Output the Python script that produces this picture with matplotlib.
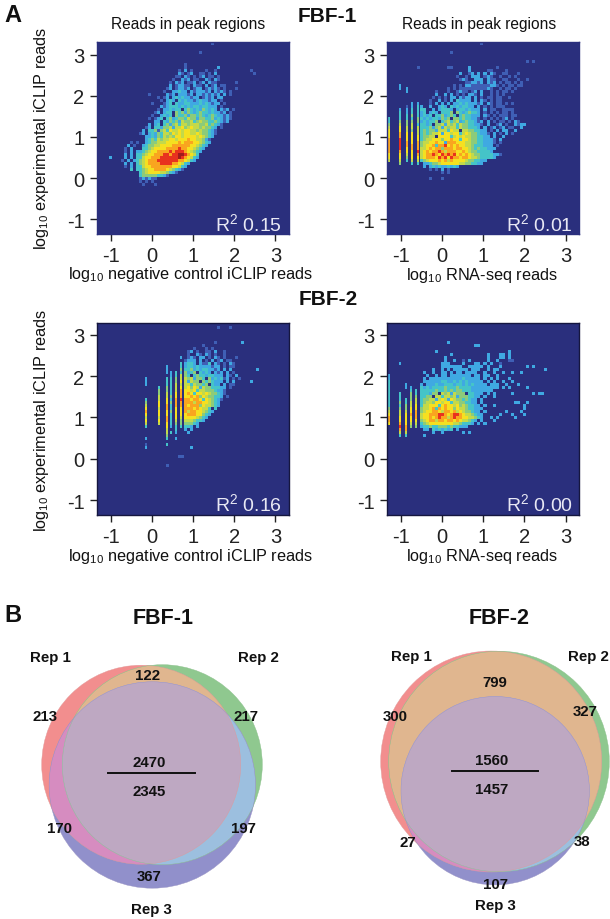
import numpy as np
import matplotlib
matplotlib.use("Agg")
import matplotlib.pyplot as plt
from matplotlib.colors import ListedColormap
from matplotlib.patches import Circle, Polygon

plt.rcParams['font.family'] = ['Liberation Sans', 'DejaVu Sans']
plt.rcParams['mathtext.fontset'] = 'custom'
plt.rcParams['mathtext.rm'] = 'Liberation Sans'
plt.rcParams['mathtext.default'] = 'regular'

# ---- density levels: (row from top, first column, levels) ----
F1_NEG_ROWS = [
 (0,38,"1"),(3,34,"1"),(7,29,"1"),(8,29,"10000000000200"),
 (9,27,"1020100001001000000000001"),(10,27,"21012001101020000000000001"),
 (11,26,"11021010120110100"),(12,25,"1002120110021021"),
 (13,24,"102120112012021100000010"),(14,24,"20122110211020120110"),
 (15,23,"1201221201220121210100010"),(16,22,"10022322021222120212101"),
 (17,17,"1000002120222120221212120201"),(18,20,"1012023232212201212022"),
 (19,21,"102320323221232212201"),(20,18,"1000123032233222323212201"),
 (21,21,"212333232323323322201"),
 (22,20,"1 0 2 2 3 2 3 3 0 3 4 3 2 3 2 4 3 2 3 2 0 2 1 2 0 1"),
 (23,19,"1 2 0 2 3 3 0 4 3 4 2 4 3 2 3 4 3 3 2 3 2 2 1 2 0 1"),
 (24,18,"1 0 0 2 3 2 3 0 4 3 3 4 2 4 4 3 4 3 2 3 4 3 2 2 1 2 1"),
 (25,17,"1 0 1 2 3 0 3 4 2 3 4 4 3 5 4 4 2 4 4 3 3 4 2 3 2 1 2 1"),
 (26,18,"0 2 2 0 3 2 4 3 4 2 5 4 4 5 3 4 5 4 4 3 3 4 3 2 1 2"),
 (27,17,"2 0 2 3 0 3 4 2 4 5 3 5 5 4 5 5 5 4 4 5 3 4 3 2 1 0"),
 (28,16,"1 2 0 3 3 2 4 4 5 2 5 5 6 4 5 6 5 5 4 5 4 4 3 2 0 1"),
 (29,15,"2 0 3 3 4 1 4 5 3 6 5 5 6 5 6 6 5 5 4 5 4 4 3 2 1 0"),
 (30,14,"1 2 0 2 3 2 4 3 5 5 4 6 5 6 5 6 6 5 5 6 5 4 4 3 2 1"),
 (31,16,"2 2 3 2 4 3 5 4 5 4 6 6 5 6 6 6 6 5 6 5 4 3 2"),
 (32,16,"2 3 4 3 5 4 5 5 6 6 5 6 6 6 7 6 6 5 5 4 2 1"),
 (33,16,"2 3 4 4 5 5 5 6 6 6 6 7 6 7 7 7 6 6 5 4 3 2"),
 (34,15,"2 3 4 4 5 5 6 6 6 6 7 7 7 7 7 7 6 6 5 4 3 2"),
 (35,15,"3 3 4 5 6 6 6 6 7 7 7 7 8 7 7 6 6 5 4 3 2"),
 (36,14,"2 3 4 5 6 6 7 7 7 7 8 7 8 8 8 7 6 5 4 3 2"),
 (37,14,"3 4 5 6 6 7 7 7 8 8 7 8 8 9 9 8 7 6 5 3"),
 (38,14,"3 5 6 6 7 7 7 8 8 8 8 8 8 9 8 7 6 5 3 2"),
 (39,14,"4 5 6 7 7 7 8 8 8 8 8 8 8 7 7 6 5 3 2"),
 (40,14,"4 5 6 7 7 7 7 8 8 8 8 7 7 6 5 3 2"),
 (41,14,"3 5 6 6 7 7 7 7 7 7 7 6 6 5 3 2"),
 (33,11,"101"),(34,10,"2010"),(35,9,"1020"),(36,9,"10202"),(37,9,"20203"),
 (38,4,"2000020203"),(39,8,"102023"),(40,9,"20203"),(41,9,"10203"),(42,11,"303"),
 (42,14,"345667777654321"),
 (43,14,"3456666554321"),(44,14,"34444433210"),(45,14,"1212110"),
 (46,14,"10101"),(47,15,"100010"),
]
F1_RNA_ROWS = [
 (0,31,"1"),(3,21,"1"),(6,46,"101"),(8,10,"1"),(8,20,"1100000200000000100"),
 (9,27,"2000001100001000"),(10,24,"2001202020210011000100"),
 (11,23,"100102220121001001010"),(12,24,"12100222021100110001001"),
 (13,26,"11221202120101101010"),(14,22,"10102211111122101011011"),
 (15,20,"1010111111111210010110100"),(16,16,"1000100121101202001010110100"),
 (17,16,"200202010102210200101010"),(18,15,"10101022021220201011011001"),
 (19,14,"1002010203222202021010110"),(20,14,"1020202022323222120210110101"),
 (21,11,"2002002320323233220201010111"),
 (22,11,"3 3 0 0 2 0 2 3 3 3 2 0 2 3 3 2 3 2 2 2 0 2 0 1 1 0 0 1 1 1 1 0"),
 (23,11,"2 3 0 2 3 2 0 3 3 3 4 0 4 3 2 3 4 3 3 2 0 1 0 1 0 1 0 1 1 0 1"),
 (24,11,"2 3 2 3 0 3 3 4 2 3 4 3 0 3 4 3 3 2 2 2 0 2 1 0 1 0 1 1 1 0 1 1"),
 (25,11,"3 2 3 2 3 3 2 4 3 4 0 4 4 3 4 3 3 2 2 1 0 1 0 1 0 1 0 1 2 0 1 0"),
 (26,11,"2 3 2 3 3 4 0 3 4 5 3 4 5 2 3 4 3 3 2 1 2 0 2 0 1 0 1 1 0 1 0 2 1"),
 (27,11,"3 3 2 3 0 4 4 5 2 5 4 5 3 5 4 4 3 3 2 2 1 0 2 0 0 1 2 0 1 0 0 2 1 2 2"),
 (28,11,"3 3 3 4 2 4 5 2 5 4 5 5 3 5 4 4 3 3 3 2 0 2 0 1 2 0 1 2 0 1 1 0 0 2"),
 (29,11,"3 4 3 4 4 2 5 5 5 3 6 5 5 0 5 5 4 4 3 3 2 2 0 1 0 2 0 2 2 0 0 2"),
 (30,11,"3 4 3 4 5 5 6 2 6 6 5 6 6 3 5 6 5 4 4 3 2 2 1 0 2 0 1 0 2 0 1"),
 (31,11,"3 4 4 5 5 0 6 6 6 6 3 5 6 5 6 5 5 4 4 3 3 2 2 0 2 0 0 2 0 0"),
 (32,11,"3 4 5 5 6 6 6 4 6 6 7 6 6 3 6 6 5 4 4 3 3 2 2 2 1 0 2 0"),
 (33,11,"4 5 5 6 6 7 6 6 2 7 7 7 6 6 6 5 5 4 4 3 3 2 2 2 1 0 1"),
 (34,11,"4 5 6 6 7 3 7 7 8 6 7 6 7 6 6 5 5 4 3 3 3 2 2 2 0 1"),
 (35,11,"5 5 6 7 6 7 7 4 7 7 7 6 7 7 6 6 5 4 3 4 3 3 2 2 2"),
 (36,11,"5 6 7 6 7 7 8 7 5 7 7 7 6 6 7 6 5 4 4 3 3 3 3 2"),
 (37,11,"5 6 7 7 8 7 6 8 7 8 7 8 6 7 6 7 6 5 4 4 3 3 3 3 2 2 1"),
 (38,11,"5 6 7 7 7 6 8 7 8 6 8 7 7 6 7 7 6 5 5 4 3 3 3 3 2"),
 (39,11,"3 4 5 6 6 6 7 6 7 5 7 6 6 6 6 5 4 4 3 3 2 2"),
 (40,11,"0223445666666554433220"),
 (41,11,"02023232232320"),(42,14,"1010201"),(43,18,"1010"),(45,14,"1000100"),
]
# stripes: (first row, column position, levels going down)
F1_RNA_COLS = [
 (25,0.2,"334566677777665"),
 (14,3.9,"2200000023334566778888766 54"),
 (15,6.3,"2200001223344556667766543"),
 (20,7.9,"223343455466667766653"),
 (20,9.9,"233334435556677787653"),
]
F2_NEG_ROWS = [
 (1,40,"10001"),(6,39,"1000000002"),(7,35,"1"),(8,32,"10001010"),
 (9,30,"1201001102001"),(10,29,"01002102101001"),
 (11,29,"012102201021010001"),(12,29,"1222020102012011"),
 (13,29,"233202113021010210"),(14,29,"23323222212201011"),
 (15,29,"3342323322120202000000002"),
 (16,29,"4 2 3 4 0 3 2 3 2 0 2 1 2 0 2 0 1"),
 (17,29,"4 3 0 3 4 3 3 2 3 3 2 2 2 0 2 1 0 2 0"),
 (18,29,"5 4 5 2 4 4 3 0 4 2 3 2 3 1 2 0 1 0 1"),
 (19,29,"5 2 5 4 4 0 4 3 4 3 2 2 2 0 2 0 2 0 0 0 0 0 2"),
 (20,29,"5 5 3 5 4 4 3 4 0 3 2 2 0 2 0 1 1 0"),
 (21,29,"5 6 4 6 5 2 5 4 4 3 3 3 2 2 0 1"),
 (22,29,"6 6 5 6 3 5 5 4 4 4 3 2 2 1"),
 (23,29,"6 7 6 3 6 6 5 6 5 4 4 3 2 1"),
 (24,29,"6 6 7 6 7 4 6 5 4 4 3 3 2 0 1"),
 (25,29,"7 7 6 7 7 6 3 6 5 4 3 2 1 0"),
 (26,29,"7 7 7 5 7 7 6 6 5 4 3 2"),
 (27,29,"7 6 7 7 7 4 6 5 5 4 3 2 0"),
 (28,29,"7 7 7 6 7 6 5 5 3 0 3"),
 (29,29,"7 5 7 7 6 6 5 4 3 2"),
 (30,29,"677766432"),
 (31,29,"666654320"),(32,29,"5554332"),(33,29,"44432"),
 (34,29,"33202"),(35,29,"202"),(36,29,"02"),
 (41,31,"2"),(44,27,"11"),(47,23,"1"),
]
F2_NEG_COLS = [
 (18,16,"222000034567656530002012"),
 (21,20.4,"3445566566565"),
 (14,23,"222033344556677667766554303"),
 (16,24.4,"223333334343343333203"),
 (16,26,"33445556677766665433202"),
 (11,27.7,"203343556567778776665443"),
]
F2_RNA_ROWS = [
 (6,20,"2"),(7,29,"22"),(9,16,"2"),(9,40,"2"),(10,21,"2"),(10,33,"2000220200"),
 (11,19,"2000000000000020002202"),(12,19,"200200102000002002000110"),
 (13,18,"22200002000220202001000"),(14,18,"2222222002222202000200000000202"),
 (15,15,"20020202222202220020220000000000000002"),
 (16,12,"2002002202022022220020020020020020"),(17,13,"2002022022222220220220020"),
 (18,12,"2022222222222322222020202000200"),(19,12,"222222332232323222220202002002"),
 (20,11,"2022232233323323232222022200200020"),(21,11,"323233334333433332222222220202000002"),
 (22,11,"333334334343443332222222"),
 (23,11,"3 3 3 2 4 4 0 5 4 5 2 5 4 4 4 0 3 3 2 2 2 0 2 0 2 0 0 0 0 0 2 0 0 0 0 0 0 2 0 2 2"),
 (24,11,"3 3 4 4 0 5 5 3 5 5 4 5 2 4 4 4 3 3 2 2 0 2 0 0 2 0"),
 (25,11,"3 4 4 5 5 2 5 6 5 2 6 5 4 4 3 4 3 2 2 0 2 0"),
 (26,11,"3 4 5 5 4 6 6 5 6 6 3 5 5 4 4 3 3 2 2 0 2 0 0 0 0 0 0 0 0 0 0 2 2 0 0 2"),
 (27,11,"3 5 5 6 6 6 3 6 7 6 6 5 6 4 5 4 3 3 2 2 0 2 0 0 2 0 0 0 0 0 0 0 0 0 2"),
 (28,11,"4 5 5 6 7 3 7 6 7 6 6 4 6 5 5 4 3 3 2 2 2 0 0 0 0 0 0 0 0 0 0 0 0 0 2"),
 (29,11,"4 5 6 6 7 7 6 5 7 7 6 7 5 6 5 4 4 3 2 2 0 2 0 0 0 0 0 0 2 0 0 0 0 2"),
 (30,11,"5 6 6 7 7 7 8 8 7 6 7 8 8 7 6 5 5 4 3 2 2 0 0 0 0 0 2 0 0 0 2 0 0 0 2"),
 (31,11,"5 6 6 7 6 7 8 7 7 5 7 8 7 7 6 6 5 5 4 3 2 0 0 2 0 2 0 0 0 0 0 2"),
 (32,11,"4 5 6 7 7 5 7 7 6 7 7 6 7 6 5 5 4 3 2 0 2 0 0 0 2"),
 (33,11,"3456666666655433320202"),
 (34,11,"23343344434332220"),(35,11,"02203232323020"),(36,15,"20020000000"),
 (36,25,"202"),(37,12,"2"),
]
F2_RNA_COLS = [
 (17,0.2,"22333333333456776"),
 (13,4,"20000000003334345566787 53"),
 (20,6,"220003344566667753"),
 (21,7.7,"23444556676654"),
 (22,9.3,"3345566777654"),
]

PANEL_ROWS = [F1_NEG_ROWS, F1_RNA_ROWS, F2_NEG_ROWS, F2_RNA_ROWS]
PANEL_COLS = [[], F1_RNA_COLS, F2_NEG_COLS, F2_RNA_COLS]
R2_LABELS = ["0.15", "0.01", "0.16", "0.00"]
XLABELS = ["negative control iCLIP reads", "RNA-seq reads"] * 2
TICKS = [-1, 0, 1, 2, 3]
LEVEL_COLORS = ["#2a2f7d", "#3f5fb5", "#3fa9e2", "#45c4c8", "#8ccb7a",
                "#c3d94a", "#f5e020", "#f9a51f", "#e8321e", "#a01c1c"]

# ---- Venn counts ----
V1_NUMS = ["213", "217", "122", "170", "197", "367", "2470", "2345"]
V2_NUMS = ["300", "327", "799", "27", "38", "107", "1560", "1457"]
REPS = ["Rep 1", "Rep 2", "Rep 3"]

W, H = 610, 920
fig = plt.figure(figsize=(W / 100, H / 100), dpi=100, facecolor='white')
bg = fig.add_axes([0, 0, 1, 1])
bg.set_xlim(0, W); bg.set_ylim(H, 0); bg.axis('off')
cmap = ListedColormap(LEVEL_COLORS)

N = 64
SUB = 3          # sub-cells per read-off cell, so stripes can be thinner than a cell
BOXES = [(97, 43, 289, 235), (387, 43, 579.3, 235),
         (97, 324.3, 289, 515.7), (387, 324.3, 579.3, 515.7)]
YLIMS = [(-1.36, 3.31), (-1.36, 3.31), (-1.355, 3.275), (-1.355, 3.275)]

for k, box in enumerate(BOXES):
    x0, y0, x1, y1 = box
    ax = fig.add_axes([x0 / W, 1 - y1 / H, (x1 - x0) / W, (y1 - y0) / H])
    g = np.zeros((N * SUB, N * SUB))
    for r, c, s in PANEL_ROWS[k]:
        for i, ch in enumerate(s.replace(" ", "")):
            if c + i < N and ch != '0':
                a, b = r * SUB, (c + i) * SUB
                g[a:a + SUB, b:b + SUB] = np.maximum(g[a:a + SUB, b:b + SUB], int(ch))
    for r, c, s in PANEL_COLS[k]:
        b = int(round(c * SUB))
        for i, ch in enumerate(s.replace(" ", "")):
            if r + i < N and ch != '0':
                a = (r + i) * SUB
                g[a:a + SUB, b:b + 2] = np.maximum(g[a:a + SUB, b:b + 2], int(ch))
    ylo, yhi = YLIMS[k]
    ax.imshow(g, cmap=cmap, vmin=0, vmax=9, origin='upper', aspect='auto',
              extent=(-1.33, 3.33, ylo, yhi), interpolation='nearest')
    ax.set_xlim(-1.33, 3.33); ax.set_ylim(ylo, yhi)
    ax.set_xticks(TICKS); ax.set_yticks(TICKS)
    ax.set_xticklabels([str(t) for t in TICKS])
    ax.set_yticklabels([str(t) for t in TICKS])
    ax.tick_params(length=5, width=1.0, labelsize=14.5, pad=4, color='#222222', labelcolor='#222222')
    for sp in ax.spines.values():
        sp.set_color('#15163f' if k >= 2 else LEVEL_COLORS[0])
        sp.set_linewidth(1.0)
    ax.text(0.965, 0.058, "R$^{2}$ " + R2_LABELS[k], color='#e8e8f4', fontsize=14,
            ha='right', va='center', transform=ax.transAxes)

def t(x, y, s, **kw):
    kw.setdefault('ha', 'center'); kw.setdefault('va', 'center'); kw.setdefault('color', '#111111')
    bg.text(x, y, s, **kw)

t(188, 24, "Reads in peak regions", fontsize=11.2)
t(479, 24, "Reads in peak regions", fontsize=11.2)
t(327, 17, "FBF-1", fontsize=15, fontweight='bold')
t(328, 300, "FBF-2", fontsize=15, fontweight='bold')
t(13, 15, "A", fontsize=17, fontweight='bold')
t(12.5, 616, "B", fontsize=17, fontweight='bold')
for (x, y, i) in [(190, 275, 0), (482, 276, 1), (190, 557, 2), (482, 557, 3)]:
    t(x, y, "log$_{10}$ " + XLABELS[i], fontsize=11.7)
t(41.7, 138.5, "log$_{10}$ experimental iCLIP reads", fontsize=11.7, rotation=90)
t(41.7, 420.8, "log$_{10}$ experimental iCLIP reads", fontsize=11.7, rotation=90)

# ---- Venn diagrams ----
SOLO = ["#f28e8e", "#8fc88f", "#9190cb"]
PAIR = {(0, 1): "#e0b68f", (0, 2): "#d68cc0", (1, 2): "#9cbfdf"}
CENTER = "#bea8c2"
EDGES = ["#e09a9a", "#8cc08c", "#9a94c4"]

def circle_points(c):
    a = np.linspace(0, 2 * np.pi, 720, endpoint=False)
    return np.c_[c[0] + c[2] * np.cos(a), c[1] + c[2] * np.sin(a)]

def inside(p, c):
    return (p[:, 0] - c[0]) ** 2 + (p[:, 1] - c[1]) ** 2 <= c[2] ** 2 + 1e-6

def draw_venn(cs):
    arts = [Circle(c[:2], c[2], fc=SOLO[i], ec='none') for i, c in enumerate(cs)]
    for a in arts:
        bg.add_patch(a)
    for (i, j), col in PAIR.items():
        p = Circle(cs[i][:2], cs[i][2], fc=col, ec='none')
        bg.add_patch(p)
        p.set_clip_path(Circle(cs[j][:2], cs[j][2], transform=bg.transData))
    pts = []
    for i in range(3):
        q = circle_points(cs[i])
        for j in range(3):
            if j != i:
                q = q[inside(q, cs[j])]
        pts.append(q)
    pts = np.vstack(pts)
    mid = pts.mean(axis=0)
    pts = pts[np.argsort(np.arctan2(pts[:, 1] - mid[1], pts[:, 0] - mid[0]))]
    bg.add_patch(Polygon(pts, closed=True, fc=CENTER, ec='none'))
    for i, c in enumerate(cs):
        bg.add_patch(Circle(c[:2], c[2], fc='none', ec=EDGES[i], lw=0.3))

V1_CIRCLES = [(141.2, 765.7, 99.5), (162.3, 765.7, 100.0), (152.3, 786.0, 103.2)]
V2_CIRCLES = [(491.2, 762.5, 110.5), (499.0, 762.5, 110.3), (495.2, 791.7, 94.2)]
draw_venn(V1_CIRCLES)
draw_venn(V2_CIRCLES)

BK = dict(fontsize=10.8, fontweight='bold', zorder=5)
TT = dict(fontsize=15.5, fontweight='bold')
t(162.7, 619, "FBF-1", **TT)
t(499.3, 619, "FBF-2", **TT)
for (x, y), s in zip([(50.8, 657.7), (258.7, 657.7), (151.7, 910)], REPS):
    t(x, y, s, **BK)
for (x, y), s in zip([(411, 657.3), (588.7, 657.3), (495.3, 906)], REPS):
    t(x, y, s, **BK)
V1_POS = [(45.3, 717.3), (246, 717.3), (147.3, 675.7), (59.3, 828.7),
          (243.3, 828.7), (149.3, 877.3), (149, 763.3), (149, 791.7)]
V2_POS = [(395, 717.3), (585, 712.3), (494.7, 683.3), (407.7, 843.3),
          (582.3, 841.7), (495, 885), (492, 760.7), (492, 790)]
for (x, y), s in zip(V1_POS, V1_NUMS):
    t(x, y, s, **BK)
for (x, y), s in zip(V2_POS, V2_NUMS):
    t(x, y, s, **BK)
bg.plot([108.3, 195], [774.3, 774.3], color='#111111', lw=1.4, zorder=5)
bg.plot([451.7, 538.3], [772.3, 772.3], color='#111111', lw=1.4, zorder=5)
bg.set_xlim(0, W); bg.set_ylim(H, 0)

fig.savefig("out.png", dpi=100)
